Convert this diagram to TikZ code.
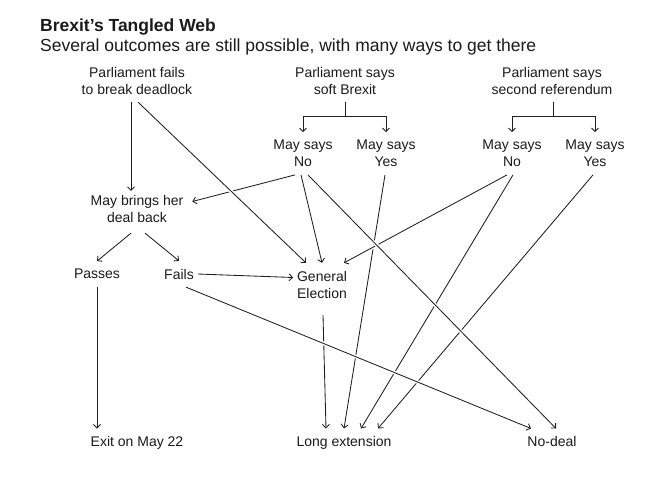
\documentclass[tikz,border=0pt]{standalone}
\usepackage{fontspec}
\setmainfont{Liberation Sans}
\usepackage{tikz}
\usetikzlibrary{arrows.meta,positioning}
\definecolor{Ink}{HTML}{1A1A1A}
\definecolor{Wire}{HTML}{202020}
\tikzset{
  choice/.style={align=center, inner sep=0pt, outer xsep=4pt, outer ysep=8pt,
    font=\fontsize{14}{17}\selectfont, text=Ink},
  outcome/.style={choice, text height=10pt, text depth=0pt},
  heading/.style={anchor=base west, inner sep=0pt, text=Ink},
  fork/.style={line width=0.85pt, draw=Wire},
  link/.style={fork, -{Straight Barb[length=3.5pt,width=7pt]}},
  web/.style={link, preaction={draw=white, line width=3.5pt, -}}
}

\begin{document}
\begin{tikzpicture}[x=1pt, y=-1pt, on grid]
  \useasboundingbox (0,0) rectangle (655,479);
  \node[heading, font=\fontsize{17.5}{20}\selectfont\bfseries] (title) at (40,31) {Brexit’s Tangled Web};
  \node[heading, font=\fontsize{17.5}{20}\selectfont] (subtitle) at (40,51) {Several outcomes are still possible, with many ways to get there};
  % first round in Parliament
  \node[choice] (deadlock) at (137,80.5) {Parliament fails\\to break deadlock};
  \node[choice, right=208pt of deadlock] (soft) {Parliament says\\soft Brexit};
  \node[choice, right=207pt of soft] (second) {Parliament says\\second referendum};
  \node[choice, below left=73pt and 42pt of soft] (noA) {May says\\No};
  \node[choice, right=83pt of noA] (yesA) {May says\\Yes};
  \node[choice, below left=73pt and 40pt of second] (noB) {May says\\No};
  \node[choice, right=83pt of noB] (yesB) {May says\\Yes};
  \node[choice, below=128pt of deadlock] (bring) {May brings her\\deal back};
  \node[choice, below left=65.5pt and 40pt of bring] (passes) {Passes};
  \node[choice, right=82pt of passes] (fails) {Fails};
  \node[choice, below right=10.5pt and 143pt of fails] (election) {General\\Election};
  % where it ends
  \node[outcome, below=233pt of bring] (exit) {Exit on May 22};
  \node[outcome, below right=157pt and 22pt of election] (longext) {Long extension};
  \node[outcome, below=361pt of second] (nodeal) {No-deal};

  \coordinate[below=14pt of soft.south] (softsplit);
  \coordinate[below=14pt of second.south] (secondsplit);
  \draw[fork] (soft.south) -- (softsplit);
  \draw[link] (softsplit) -| (noA.north);
  \draw[link] (softsplit) -| (yesA.north);
  \draw[fork] ([xshift=1pt]second.south) -- ([xshift=1pt]secondsplit);
  \draw[link] ([xshift=1pt]secondsplit) -| (noB.north);
  \draw[link] ([xshift=1pt]secondsplit) -| (yesB.north);

  \draw[link] ([xshift=-6pt]deadlock.south) -- ([xshift=-6pt,yshift=-4pt]bring.north);
  \draw[link] ([xshift=-6pt,yshift=-3pt]bring.south) -- (passes.north);
  \draw[link] ([xshift=8pt,yshift=-3pt]bring.south) -- (fails.north);
  \draw[link] (passes.south) -- (passes.south |- exit.north);
  \draw[link] (fails.east) -- ([yshift=7pt]election.west);
  \draw[link] ([xshift=1pt,yshift=-9pt]election.south) -- ([xshift=-18pt]longext.north);
  \draw[web] ([xshift=-8pt]noA.south) -- ([xshift=5pt,yshift=7pt]bring.east);
  \draw[web] ([xshift=-1pt]yesA.south) -- (longext.north);
  \draw[web] ([xshift=1pt]noB.south) -- ([xshift=17pt]longext.north);
  \draw[web] ([xshift=-2pt]yesB.south) -- ([xshift=34pt]longext.north);
  \draw[web] ([xshift=-5pt]noB.south) -- ([xshift=22pt]election.north);
  \draw[web] ([xshift=-2pt]noA.south) -- (election.north);
  \draw[web] ([xshift=5pt]noA.south) -- ([xshift=4pt]nodeal.north);
  \draw[web] ([xshift=7pt]fails.south) -- ([xshift=-21pt]nodeal.north);
  \draw[web] ([xshift=1pt]deadlock.south) -- ([xshift=-16pt]election.north);
\end{tikzpicture}
\end{document}
